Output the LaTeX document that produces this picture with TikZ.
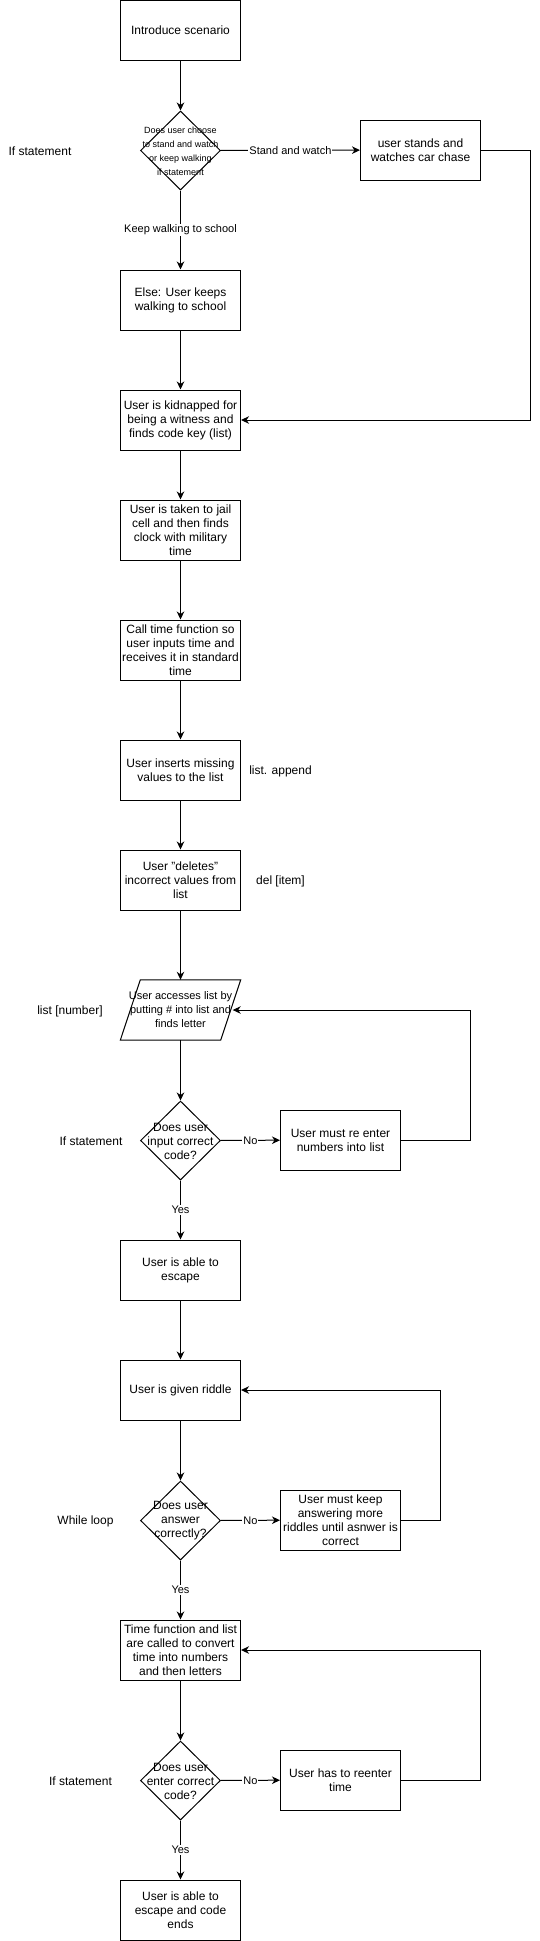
\documentclass[tikz,border=0pt]{standalone}
\usepackage{fontspec}
\setmainfont{Liberation Sans}
\usetikzlibrary{shapes.geometric,arrows.meta}
\begin{document}
\begin{tikzpicture}[x=1pt,y=-1pt,
  box/.style={draw, line width=1pt, minimum width=120pt, minimum height=60pt, inner sep=1pt, align=center, font=\fontsize{12}{14}\selectfont},
  dia/.style={draw, diamond, line width=1pt, minimum width=80pt, minimum height=79pt, inner sep=0pt},
  dtext/.style={align=center, inner sep=0pt, font=\fontsize{12}{14}\selectfont},
  side/.style={inner sep=0pt, font=\fontsize{12}{14}\selectfont},
  lbl/.style={fill=white, inner sep=1pt, font=\fontsize{11}{12}\selectfont},
  arr/.style={line width=1pt, -{Stealth[length=8pt,width=7.5pt,inset=2.5pt]}},
  ln/.style={line width=1pt}]
\fill[white] (0,0) rectangle (539,1941);
\useasboundingbox (0,0) rectangle (539,1941);

% nodes
\node[box] (intro) at (180.5,30) {Introduce scenario};
\node[dia] (d1) at (180.5,150.5) {};
\node[dtext, font=\fontsize{9}{14}\selectfont] (d1t) at (180.5,151) {Does user choose\\to stand and watch\\or keep walking\\if statement};
\node[box] (stand) at (420.5,150) {user stands and\\watches car chase};
\node[box] (else) at (180.5,300) {Else: User keeps\\walking to school};
\node[box] (kid) at (180.5,420) {User is kidnapped for\\being a witness and\\finds code key (list)};
\node[box] (jail) at (180.5,530) {User is taken to jail\\cell and then finds\\clock with military\\time};
\node[box] (call) at (180.5,650) {Call time function so\\user inputs time and\\receives it in standard\\time};
\node[box] (ins) at (180.5,770) {User inserts missing\\values to the list};
\node[box] (del) at (180.5,880) {User "deletes"\\incorrect values from\\list};
\node[minimum width=120pt, minimum height=60pt, inner sep=1pt, align=center, font=\fontsize{11}{14}\selectfont] (para) at (180.5,1010) {User accesses list by\\putting \# into list and\\finds letter};
\draw[ln] (para.south west) -- ([xshift=-20pt]para.south east) -- (para.north east) -- ([xshift=20pt]para.north west) -- cycle;
\node[dia] (d2) at (180.5,1140.5) {};
\node[dtext] (d2t) at (180.5,1141) {Does user\\input correct\\code?};
\node[box] (reent) at (340.5,1140) {User must re enter\\numbers into list};
\node[box] (esc) at (180.5,1270) {User is able to\\escape};
\node[box] (riddle) at (180.5,1390) {User is given riddle};
\node[dia] (d3) at (180.5,1520.5) {};
\node[dtext] (d3t) at (180.5,1521) {Does user\\answer\\correctly?};
\node[box] (keep) at (340.5,1520) {User must keep\\answering more\\riddles until asnwer is\\correct};
\node[box] (timef) at (180.5,1650) {Time function and list\\are called to convert\\time into numbers\\and then letters};
\node[dia] (d4) at (180.5,1780.5) {};
\node[dtext] (d4t) at (180.5,1781) {Does user\\enter correct\\code?};
\node[box] (reent2) at (340.5,1780) {User has to reenter\\time};
\node[box] (endb) at (180.5,1910) {User is able to\\escape and code\\ends};

% side labels
\node[side] (s1) at (40,151) {If statement};
\node[side] (s2) at (280.5,771) {list. append};
\node[side] (s3) at (280.5,881) {del [item]};
\node[side] (s4) at (70,1011) {list [number]};
\node[side] (s5) at (91,1141) {If statement};
\node[side] (s6) at (85.5,1521) {While loop};
\node[side] (s7) at (80.5,1781) {If statement};

% loop corner coordinates
\coordinate (c1) at (530,150);
\coordinate (c3) at (470,1140);
\coordinate (c4) at (440,1520);
\coordinate (c5) at (480.5,1780);

% connectors
\draw[arr] (intro) -- (d1);
\draw[arr] (d1) -- node[lbl] (l1) {Stand and watch} (stand);
\draw[arr] (d1) -- node[lbl] (l2) {Keep walking to school} (else);
\draw[arr] (else) -- (kid);
\draw[arr] (stand.east) -- (c1) |- (kid.east);
\draw[arr] (kid) -- (jail);
\draw[arr] (jail) -- (call);
\draw[arr] (call) -- (ins);
\draw[arr] (ins) -- (del);
\draw[arr] (del) -- (para);
\draw[arr] (para) -- (d2);
\draw[arr] (d2) -- node[lbl] (l3) {No} (reent);
\draw[arr] (reent.east) -- (c3) |- ([xshift=-8pt]para.east);
\draw[arr] (d2) -- node[lbl] (l4) {Yes} (esc);
\draw[arr] (esc) -- (riddle);
\draw[arr] (riddle) -- (d3);
\draw[arr] (d3) -- node[lbl] (l5) {No} (keep);
\draw[arr] (keep.east) -- (c4) |- (riddle.east);
\draw[arr] (d3) -- node[lbl] (l6) {Yes} (timef);
\draw[arr] (timef) -- (d4);
\draw[arr] (d4) -- node[lbl] (l7) {No} (reent2);
\draw[arr] (reent2.east) -- (c5) |- (timef.east);
\draw[arr] (d4) -- node[lbl] (l8) {Yes} (endb);
\end{tikzpicture}
\end{document}
